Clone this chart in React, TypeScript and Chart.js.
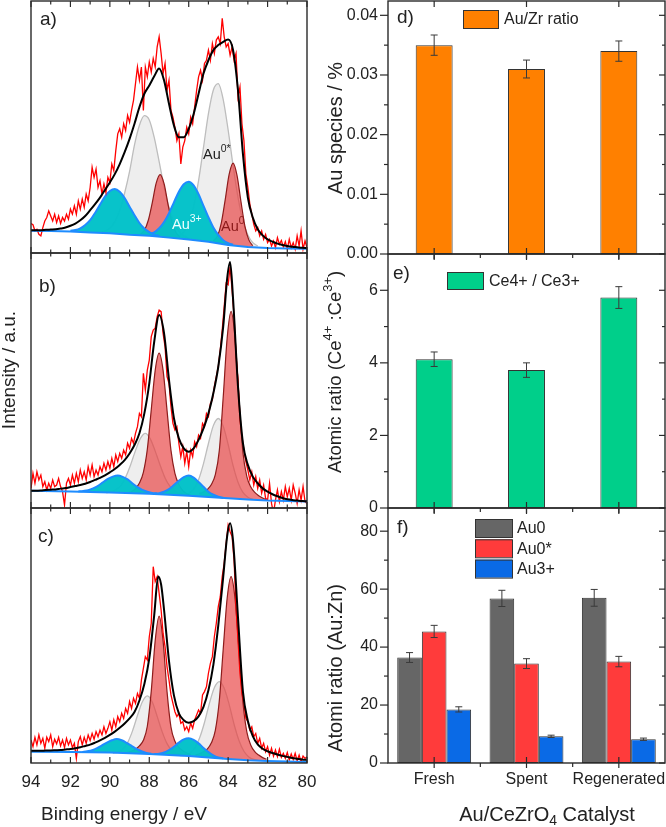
import React, { useEffect, useRef } from 'react';
import { Chart, registerables } from 'chart.js';

Chart.register(...registerables);

const FONT = 'Arial, "Liberation Sans", Helvetica, sans-serif';
const INK = '#222222';
Chart.defaults.font.family = FONT;
Chart.defaults.color = INK;

type Pt = [number, number];

// ---------------- XPS Au 4f spectra (binding energy / eV, intensity / a.u.) ----------------
const ENERGY_START = 94;
const ENERGY_STEP = 0.1;
const BE_TICKS = [94, 92, 90, 88, 86, 84, 82, 80];
const BE_MINOR = [93, 91, 89, 87, 85, 83, 81];

const RAW_A = [
  11.7, 11.2, 8.8, 9.4, 7.4, 6.8, 10.1, 12.7, 14.1, 16.7,
  14.7, 12.7, 15.4, 12.1, 14.7, 11.7, 14.1, 12.7, 15.4, 13.4,
  17.4, 15.4, 18.7, 15.4, 20.7, 17.4, 21.4, 18.1, 23.4, 20.7,
  26.0, 34.0, 30.0, 33.3, 26.0, 28.7, 23.4, 27.4, 24.0, 30.0,
  28.0, 35.3, 32.7, 40.6, 47.3, 49.3, 45.9, 51.3, 48.6, 54.6,
  51.9, 56.6, 60.6, 67.2, 73.8, 68.5, 73.8, 56.6, 73.8, 69.9,
  75.8, 71.8, 77.2, 73.8, 81.8, 85.8, 79.2, 71.2, 75.2, 64.5,
  68.5, 56.6, 53.9, 49.9, 44.6, 47.3, 35.3, 42.0, 44.6, 49.9,
  47.3, 53.9, 51.3, 57.9, 64.5, 69.9, 72.5, 68.5, 75.2, 76.5,
  80.5, 76.5, 83.1, 79.2, 84.5, 85.8, 83.1, 93.1, 85.8, 81.8,
  83.1, 78.5, 81.8, 76.5, 79.2, 61.9, 65.9, 51.3, 44.6, 31.3,
  26.0, 19.4, 15.4, 11.4, 8.8, 10.1, 6.8, 8.8, 5.4, 7.4,
  4.1, 5.4, 2.8, 4.8, 2.1, 6.1, 3.5, 5.0, 2.4, 4.5,
  1.5, 5.4, 2.1, 4.1, 1.5, 6.8, 2.8, 8.8, 1.5, 4.8, 2.1,
];
const RAW_B = [
  7.7, 13.6, 9.7, 14.2, 11.0, 12.9, 8.4, 10.3, 7.1, 9.7,
  7.7, 11.0, 8.4, 9.0, 11.6, 8.4, 6.4, 1.2, 9.7, 11.6,
  9.0, 12.9, 9.7, 13.6, 10.3, 14.9, 11.6, 14.2, 11.0, 16.2,
  12.9, 16.9, 12.3, 14.9, 12.9, 16.2, 14.2, 17.5, 14.9, 18.2,
  15.6, 19.5, 16.2, 20.8, 18.2, 21.4, 19.5, 22.7, 20.8, 25.4,
  23.4, 27.3, 25.4, 29.3, 31.9, 37.1, 35.8, 52.8, 46.3, 54.1,
  58.0, 67.2, 69.8, 70.5, 75.0, 77.6, 77.0, 68.5, 63.3, 51.5,
  48.9, 39.7, 33.2, 30.6, 31.9, 25.4, 20.1, 24.1, 17.5, 22.1,
  16.2, 22.7, 20.1, 26.0, 24.1, 28.6, 27.3, 33.2, 31.9, 37.1,
  35.8, 41.0, 42.4, 47.6, 51.5, 55.4, 62.0, 69.8, 79.0, 88.1,
  87.5, 94.6, 85.5, 75.0, 59.3, 50.2, 34.5, 28.0, 22.7, 18.2,
  14.9, 11.0, 14.2, 9.0, 12.3, 7.7, 11.0, 5.8, 9.0, 3.8,
  3.1, 9.7, 1.8, -2.1, 3.1, 7.1, 2.5, 6.4, 3.1, 8.4,
  4.4, 7.7, 3.1, 9.0, 5.8, 1.8, 7.1, 3.1, 8.4, 2.5, 1.8,
];
const RAW_C = [
  9.0, 6.4, 10.1, 7.1, 11.0, 7.7, 9.7, 5.8, 10.1, 8.4,
  11.0, 6.4, 9.3, 7.5, 10.1, 6.7, 9.0, 6.1, 9.7, 7.1,
  9.0, 6.1, 7.7, 1.8, 8.4, 10.3, 7.1, 10.1, 7.7, 11.0,
  8.8, 11.6, 9.3, 12.3, 10.3, 12.9, 11.0, 14.2, 11.6, 13.6,
  16.2, 12.9, 16.9, 14.2, 18.2, 16.2, 19.5, 17.5, 21.4, 19.5,
  24.1, 21.4, 25.4, 23.4, 27.3, 25.4, 32.5, 37.1, 41.7, 40.4,
  49.5, 54.8, 77.0, 71.1, 73.1, 66.5, 60.0, 50.8, 45.6, 37.8,
  32.5, 26.7, 23.4, 20.1, 18.2, 19.5, 15.6, 16.2, 12.9, 14.2,
  12.3, 15.6, 13.6, 16.9, 18.8, 20.8, 19.5, 26.7, 28.0, 29.9,
  35.2, 39.1, 41.7, 49.5, 54.8, 61.3, 65.2, 73.1, 78.3, 86.1,
  93.3, 90.7, 88.8, 79.6, 61.3, 48.2, 35.2, 27.3, 23.4, 17.5,
  16.2, 12.9, 14.2, 10.3, 11.6, 7.7, 9.7, 5.8, 7.7, 4.4,
  6.4, 3.1, 5.8, 2.7, 5.1, 2.5, 5.4, 2.2, 3.8, 1.8,
  4.1, 1.2, 3.5, 1.4, 3.8, 0.9, 3.1, 0.5, 2.7, 1.8, 2.5,
];

const FIT_A: Pt[] = [[94,9.0],[93.75,9.0],[93.5,9.0],[93.25,9.2],[93,9.3],[92.75,9.4],[92.5,9.7],[92.25,10.1],[92,10.8],[91.75,11.7],[91.5,13.0],[91.25,14.7],[91,17.0],[90.75,19.4],[90.5,22.0],[90.25,25.0],[90,28.0],[89.75,31.3],[89.5,35.3],[89.25,40.0],[89,45.3],[88.75,51.3],[88.5,57.9],[88.25,63.2],[88,66.5],[87.75,70.1],[87.5,73.2],[87.25,68.5],[87,59.2],[86.75,50.6],[86.5,45.9],[86.25,45.9],[86,49.3],[85.75,55.2],[85.5,63.2],[85.25,71.2],[85,76.5],[84.75,80.5],[84.5,82.5],[84.25,83.8],[84,84.7],[83.75,80.5],[83.5,64.5],[83.25,39.3],[83,22.0],[82.75,14.1],[82.5,9.4],[82.25,7.0],[82,5.4],[81.75,4.5],[81.5,3.7],[81.25,3.2],[81,2.8],[80.75,2.5],[80.5,2.3],[80.25,2.1],[80,2.0]];
const BG_A: Pt[] = [[94,8.8],[93,8.7],[92,8.5],[91,8.1],[90,7.8],[89,7.2],[88,6.8],[87,6.1],[86,5.4],[85,4.5],[84,3.2],[83,2.4],[82,2.0],[81,1.8],[80,1.7]];
const GRAY_A1: Pt[] = [[90.5,8.3],[90.25,8.7],[90,9.9],[89.75,12.4],[89.5,16.9],[89.25,23.8],[89,32.4],[88.75,42.9],[88.5,50.7],[88.25,54.5],[88,52.8],[87.75,45.9],[87.5,36.3],[87.25,26.3],[87,18.0],[86.75,12.3],[86.5,8.7],[86.25,6.8],[86,5.8]];
const GRAY_A2: Pt[] = [[86.75,6.3],[86.5,6.8],[86.25,8.4],[86,11.9],[85.75,18.4],[85.5,28.7],[85.25,41.9],[85,55.3],[84.75,64.7],[84.5,67.2],[84.25,60.9],[84,48.8],[83.75,34.7],[83.5,22.1],[83.25,12.8],[83,7.1],[82.75,4.1],[82.5,2.8]];
const RED_A1: Pt[] = [[88.45,7.4],[88.25,9.0],[88.05,13.0],[87.85,19.9],[87.65,27.7],[87.45,31.1],[87.25,27.5],[87.05,19.3],[86.85,12.3],[86.65,8.1],[86.45,6.5]];
const RED_A2: Pt[] = [[84.75,4.8],[84.55,6.6],[84.35,11.8],[84.15,21.1],[83.95,31.2],[83.75,35.7],[83.55,30.8],[83.35,20.4],[83.15,10.7],[82.95,5.2],[82.75,2.9]];
const CYAN_A1: Pt[] = [[92,8.8],[91.75,9.1],[91.5,9.8],[91.25,11.1],[91,13.0],[90.75,15.9],[90.5,19.2],[90.25,22.4],[90,24.6],[89.75,25.4],[89.5,24.3],[89.25,21.8],[89,18.4],[88.75,15.0],[88.5,11.9],[88.25,9.7],[88,8.3],[87.75,7.3],[87.5,6.8]];
const CYAN_A2: Pt[] = [[88.25,7.2],[88,7.5],[87.75,8.2],[87.5,9.8],[87.25,12.3],[87,15.8],[86.75,20.1],[86.5,24.3],[86.25,27.3],[86,28.3],[85.75,26.8],[85.5,23.3],[85.25,18.7],[85,14.2],[84.75,10.1],[84.5,7.2],[84.25,5.1],[84,3.9],[83.75,3.3]];

const FIT_B: Pt[] = [[94,6.8],[93.75,6.8],[93.5,6.9],[93.25,7.1],[93,7.2],[92.75,7.3],[92.5,7.6],[92.25,7.8],[92,8.2],[91.75,8.6],[91.5,9.0],[91.25,9.5],[91,10.2],[90.75,11.0],[90.5,11.8],[90.25,12.8],[90,14.0],[89.75,15.3],[89.5,16.9],[89.25,18.8],[89,21.4],[88.75,24.7],[88.5,29.3],[88.25,37.1],[88,48.9],[87.75,65.2],[87.5,75.7],[87.25,68.5],[87,50.2],[86.75,35.2],[86.5,27.3],[86.25,23.4],[86,22.1],[85.75,23.4],[85.5,26.7],[85.25,31.2],[85,37.1],[84.75,45.0],[84.5,55.4],[84.25,71.1],[84.05,90.0],[83.9,96.5],[83.75,82.0],[83.5,47.6],[83.25,25.4],[83,16.9],[82.75,12.3],[82.5,9.7],[82.25,7.7],[82,6.4],[81.75,5.4],[81.5,4.6],[81.25,3.9],[81,3.4],[80.75,3.1],[80.5,2.9],[80.25,2.7],[80,2.6]];
const BG_B: Pt[] = [[94,6.8],[92,6.5],[90,6.1],[88,5.6],[87,5.2],[86,4.8],[85,4.3],[84,3.8],[83,3.3],[82,2.9],[80,2.5]];
const GRAY_B1: Pt[] = [[90.2,6.0],[89.95,6.3],[89.7,7.2],[89.45,8.8],[89.2,12.1],[88.95,16.9],[88.7,22.5],[88.45,27.3],[88.2,29.3],[87.95,27.1],[87.7,22.3],[87.45,16.8],[87.2,11.8],[86.95,8.5],[86.7,6.6],[86.45,5.6],[86.2,5.3]];
const GRAY_B2: Pt[] = [[86.25,5.2],[86,5.8],[85.75,7.4],[85.5,11.1],[85.25,17.4],[85,25.3],[84.75,32.3],[84.5,35.1],[84.25,32.1],[84,24.9],[83.75,16.6],[83.5,10.1],[83.25,6.1],[83,4.2],[82.75,3.4]];
const RED_B1: Pt[] = [[89.1,5.9],[88.9,6.4],[88.7,7.6],[88.5,9.8],[88.3,14.0],[88.1,23.0],[87.9,38.5],[87.7,54.0],[87.5,60.7],[87.3,54.0],[87.1,38.3],[86.9,22.6],[86.7,13.6],[86.5,9.2],[86.3,6.8],[86.1,5.6],[85.9,5.0]];
const RED_B2: Pt[] = [[85.45,5.6],[85.25,6.3],[85.05,7.3],[84.85,9.2],[84.65,13.1],[84.45,22.4],[84.25,43.5],[84.05,66.6],[83.85,77.1],[83.65,66.5],[83.45,43.1],[83.25,21.8],[83.05,12.3],[82.85,8.2],[82.65,6.1],[82.45,4.8],[82.25,3.9],[82.05,3.2]];
const CYAN_B1: Pt[] = [[91.6,6.5],[91.35,6.7],[91.1,7.0],[90.85,7.7],[90.6,8.7],[90.35,10.1],[90.1,11.4],[89.85,12.3],[89.6,12.7],[89.35,12.2],[89.1,11.2],[88.85,9.6],[88.6,8.2],[88.35,7.1],[88.1,6.4],[87.85,5.9],[87.6,5.7]];
const CYAN_B2: Pt[] = [[87.75,5.6],[87.5,5.8],[87.25,6.4],[87,7.4],[86.75,9.0],[86.5,10.7],[86.25,12.1],[86,12.7],[85.75,11.9],[85.5,10.2],[85.25,8.3],[85,6.4],[84.75,5.2],[84.5,4.4],[84.25,4.0]];

const FIT_C: Pt[] = [[94,4.8],[93.75,4.8],[93.5,4.8],[93.25,4.9],[93,4.9],[92.75,5.0],[92.5,5.1],[92.25,5.3],[92,5.5],[91.75,5.8],[91.5,6.2],[91.25,6.7],[91,7.2],[90.75,8.0],[90.5,8.9],[90.25,9.9],[90,11.0],[89.75,12.3],[89.5,13.8],[89.25,15.5],[89,17.5],[88.75,20.0],[88.5,24.5],[88.25,31.0],[88,41.0],[87.75,58.0],[87.55,73.1],[87.4,70.0],[87.25,60.0],[87,40.0],[86.75,26.5],[86.5,19.5],[86.25,16.8],[86,15.8],[85.75,16.4],[85.5,18.3],[85.25,22.0],[85,28.5],[84.75,38.5],[84.5,54.0],[84.25,73.0],[84.05,89.0],[83.9,94.0],[83.75,87.0],[83.5,57.0],[83.25,28.0],[83,16.5],[82.75,10.5],[82.5,7.3],[82.25,5.6],[82,4.6],[81.75,3.9],[81.5,3.3],[81.25,2.8],[81,2.4],[80.75,2.0],[80.5,1.7],[80.25,1.4],[80,1.2]];
const BG_C: Pt[] = [[94,4.4],[92,4.3],[90,4.1],[88,3.5],[87,3.1],[86,2.7],[85,2.2],[84,1.6],[83,1.1],[82,0.8],[80,0.4]];
const GRAY_C1: Pt[] = [[89.85,3.9],[89.6,4.3],[89.35,5.4],[89.1,8.0],[88.85,12.6],[88.6,18.6],[88.35,24.0],[88.1,26.3],[87.85,23.9],[87.6,18.3],[87.35,12.3],[87.1,7.6],[86.85,4.9],[86.6,3.7],[86.35,3.3]];
const GRAY_C2: Pt[] = [[86.45,2.9],[86.2,3.0],[85.95,3.8],[85.7,5.8],[85.45,9.8],[85.2,15.9],[84.95,23.4],[84.7,29.5],[84.45,31.9],[84.2,29.3],[83.95,23.0],[83.7,15.2],[83.45,8.8],[83.2,4.6],[82.95,2.4],[82.7,1.4],[82.45,1.0]];
const RED_C1: Pt[] = [[89.1,4.1],[88.9,4.6],[88.7,5.4],[88.5,6.7],[88.3,8.9],[88.1,14.4],[87.9,28.2],[87.7,48.0],[87.5,57.6],[87.3,47.9],[87.1,28.0],[86.9,14.1],[86.7,8.5],[86.5,6.1],[86.3,4.8],[86.1,3.9],[85.9,3.4]];
const RED_C2: Pt[] = [[85.65,3.1],[85.45,3.6],[85.25,4.4],[85.05,5.5],[84.85,7.9],[84.65,12.8],[84.45,24.3],[84.25,44.6],[84.05,64.6],[83.85,73.1],[83.65,64.4],[83.45,44.3],[83.25,23.8],[83.05,12.1],[82.85,7.0],[82.65,4.5],[82.45,3.1],[82.25,2.1],[82.05,1.5]];
const CYAN_C1: Pt[] = [[91.4,4.3],[91.15,4.6],[90.9,5.0],[90.65,5.8],[90.4,6.9],[90.15,8.0],[89.9,8.9],[89.65,9.4],[89.4,8.9],[89.15,7.9],[88.9,6.7],[88.65,5.5],[88.4,4.6],[88.15,3.9],[87.9,3.6]];
const CYAN_C2: Pt[] = [[87.75,3.5],[87.5,3.6],[87.25,4.1],[87,5.1],[86.75,6.4],[86.5,8.0],[86.25,9.25],[86,9.7],[85.75,9.1],[85.5,7.7],[85.25,5.9],[85,4.3],[84.75,3.0],[84.5,2.2],[84.25,1.9]];

// ---------------- Bar panels ----------------
const CATALYSTS = ['Fresh', 'Spent', 'Regenerated'];
const AU_ZR = [0.035, 0.031, 0.034];
const AU_ZR_ERR = [0.0017, 0.0015, 0.0017];
const CE_RATIO = [4.1, 3.8, 5.8];
const CE_RATIO_ERR = [0.2, 0.2, 0.3];
const AU0 = [36.4, 56.8, 57.0];
const AU0_ERR = [1.7, 2.8, 2.9];
const AU0_STAR = [45.4, 34.3, 35.0];
const AU0_STAR_ERR = [2.1, 1.7, 1.8];
const AU3 = [18.5, 9.2, 8.2];
const AU3_ERR = [0.9, 0.4, 0.4];
const D_TICKS = [0, 0.01, 0.02, 0.03, 0.04];
const D_MINOR = [0.005, 0.015, 0.025, 0.035];
const E_TICKS = [0, 2, 4, 6];
const E_MINOR = [1, 3, 5];
const F_TICKS = [0, 20, 40, 60, 80];
const F_MINOR = [10, 30, 50, 70];

// ---------------- helpers ----------------
const W = 666;
const H = 827;
const toXY = (pts: Pt[]) => pts.map(([x, y]) => ({ x, y }));
const rawXY = (vals: number[]) =>
  vals.map((y, i) => ({ x: Math.round((ENERGY_START - i * ENERGY_STEP) * 100) / 100, y }));

interface XpsSet { raw: number[]; fit: Pt[]; bg: Pt[]; gray: Pt[][]; red: Pt[][]; cyan: Pt[][] }

function xpsDatasets(s: XpsSet) {
  const ds: any[] = [
    { label: 'Background', data: toXY(s.bg), borderColor: '#1E8CFF', borderWidth: 2, fill: false, order: 2 },
  ];
  s.gray.forEach((p) =>
    ds.push({ label: 'Au0*', data: toXY(p), borderColor: '#BDBDBD', borderWidth: 1.3, backgroundColor: 'rgba(215,215,215,0.42)', fill: 0, order: 7, cubicInterpolationMode: 'monotone' }));
  s.red.forEach((p) =>
    ds.push({ label: 'Au0', data: toXY(p), borderColor: '#8E1C1C', borderWidth: 1.2, backgroundColor: 'rgba(232,62,62,0.66)', fill: 0, order: 6, cubicInterpolationMode: 'monotone' }));
  s.cyan.forEach((p) =>
    ds.push({ label: 'Au3+', data: toXY(p), borderColor: '#1E8CFF', borderWidth: 2, backgroundColor: 'rgba(0,193,200,0.97)', fill: 0, order: 5, cubicInterpolationMode: 'monotone' }));
  ds.push({ label: 'Raw', data: rawXY(s.raw), borderColor: '#FF0000', borderWidth: 1.3, fill: false, order: 3, tension: 0 });
  ds.push({ label: 'Fit', data: toXY(s.fit), borderColor: '#000000', borderWidth: 2, fill: false, order: 1, cubicInterpolationMode: 'monotone' });
  return ds;
}

type Part = { t: string; s?: number; dy?: number };
interface TextItem { parts: Part[]; x: number; y: number; size: number; rot?: number; color?: string; align?: 'left' | 'center' }

function textPlugin(items: TextItem[]) {
  return {
    id: 'richText',
    afterDraw(chart: any) {
      const ctx = chart.ctx as CanvasRenderingContext2D;
      items.forEach((it) => {
        ctx.save();
        ctx.translate(it.x, it.y);
        if (it.rot) ctx.rotate(it.rot);
        ctx.fillStyle = it.color || INK;
        ctx.textBaseline = 'middle';
        ctx.textAlign = 'left';
        let total = 0;
        const widths = it.parts.map((p) => {
          ctx.font = `${it.size * (p.s ?? 1)}px ${FONT}`;
          const w = ctx.measureText(p.t).width;
          total += w;
          return w;
        });
        let x = it.align === 'left' ? 0 : -total / 2;
        it.parts.forEach((p, i) => {
          ctx.font = `${it.size * (p.s ?? 1)}px ${FONT}`;
          ctx.fillText(p.t, x, (p.dy ?? 0) * it.size);
          x += widths[i];
        });
        ctx.restore();
      });
    },
  };
}

function framePlugin(kind: 'xps' | 'bar', yMajor: number[] = [], yMinor: number[] = []) {
  return {
    id: 'frame',
    afterDraw(chart: any) {
      const { ctx, chartArea: a, scales } = chart;
      const xs = scales.x;
      const ys = scales.y;
      ctx.save();
      ctx.strokeStyle = '#2A2A2A';
      const seg = (x1: number, y1: number, x2: number, y2: number) => {
        ctx.beginPath(); ctx.moveTo(x1, y1); ctx.lineTo(x2, y2); ctx.stroke();
      };
      ctx.lineWidth = 1.2;
      if (kind === 'xps') {
        BE_TICKS.forEach((v) => { const px = xs.getPixelForValue(v); seg(px, a.bottom, px, a.bottom - 6); seg(px, a.top, px, a.top + 6); });
        BE_MINOR.forEach((v) => { const px = xs.getPixelForValue(v); seg(px, a.bottom, px, a.bottom - 3.5); seg(px, a.top, px, a.top + 3.5); });
      } else {
        const n = chart.data.labels.length;
        for (let i = 0; i < n; i++) {
          const px = xs.getPixelForValue(i);
          seg(px, a.bottom + 5, px, a.bottom - 6);
          seg(px, a.top, px, a.top + 6);
        }
        for (let i = 0; i < n - 1; i++) {
          const px = xs.getPixelForValue(i + 0.5);
          seg(px, a.bottom, px, a.bottom + 4);
        }
        yMajor.forEach((v) => { const py = ys.getPixelForValue(v); seg(a.left - 8, py, a.left, py); seg(a.right, py, a.right - 6, py); });
        yMinor.forEach((v) => { const py = ys.getPixelForValue(v); seg(a.left - 4, py, a.left, py); seg(a.right, py, a.right - 3, py); });
      }
      ctx.lineWidth = 1.4;
      ctx.strokeRect(a.left, a.top, a.right - a.left, a.bottom - a.top);
      ctx.restore();
    },
  };
}

function errorPlugin(errs: number[][]) {
  return {
    id: 'errorBars',
    afterDatasetsDraw(chart: any) {
      const ctx = chart.ctx as CanvasRenderingContext2D;
      const ys = chart.scales.y;
      ctx.save();
      ctx.strokeStyle = '#3A3A3A';
      ctx.lineWidth = 1;
      chart.data.datasets.forEach((ds: any, di: number) => {
        const meta = chart.getDatasetMeta(di);
        meta.data.forEach((bar: any, i: number) => {
          const v = ds.data[i];
          const e = errs[di][i];
          const x = bar.x;
          const yt = ys.getPixelForValue(v + e);
          const yb = ys.getPixelForValue(v - e);
          ctx.beginPath();
          ctx.moveTo(x, yt); ctx.lineTo(x, yb);
          ctx.moveTo(x - 3.5, yt); ctx.lineTo(x + 3.5, yt);
          ctx.moveTo(x - 3.5, yb); ctx.lineTo(x + 3.5, yb);
          ctx.stroke();
        });
      });
      ctx.restore();
    },
  };
}

function legendPlugin(x: number, y: number, w: number, h: number, step: number, gap: number) {
  return {
    id: 'boxLegend',
    afterDraw(chart: any) {
      const ctx = chart.ctx as CanvasRenderingContext2D;
      ctx.save();
      chart.data.datasets.forEach((ds: any, i: number) => {
        const yy = y + i * step;
        ctx.fillStyle = ds.backgroundColor;
        ctx.fillRect(x, yy, w, h);
        ctx.strokeStyle = '#333';
        ctx.lineWidth = 1;
        ctx.strokeRect(x + 0.5, yy + 0.5, w, h);
        ctx.fillStyle = INK;
        ctx.font = `16px ${FONT}`;
        ctx.textBaseline = 'middle';
        ctx.textAlign = 'left';
        ctx.fillText(ds.label, x + w + gap, yy + h / 2 + 1);
      });
      ctx.restore();
    },
  };
}

const baseOptions = {
  responsive: false,
  animation: false as const,
  events: [] as any[],
  elements: { point: { radius: 0, hitRadius: 0 } },
};

function xpsConfig(s: XpsSet, top: number, bottom: number, showX: boolean, texts: TextItem[]) {
  const left = 31;
  const right = 307;
  const x: any = {
    type: 'linear', min: 80, max: 94, reverse: true, display: showX,
    grid: { display: false, drawTicks: false }, border: { display: false },
    ticks: { font: { size: 17 }, color: INK, padding: 9, maxRotation: 0, autoSkip: false },
    afterBuildTicks: (sc: any) => { sc.ticks = BE_TICKS.map((value) => ({ value })); },
  };
  if (showX) x.afterFit = (sc: any) => { sc.height = 40; sc.paddingLeft = 0; sc.paddingRight = 0; };
  return {
    type: 'line' as const,
    data: { datasets: xpsDatasets(s) },
    options: {
      ...baseOptions,
      layout: { padding: { left, right: W - right, top, bottom: H - bottom - (showX ? 40 : 0) } },
      plugins: { legend: { display: false }, tooltip: { enabled: false } },
      scales: { x, y: { type: 'linear', min: 0, max: 100, display: false } },
    },
    plugins: [framePlugin('xps'), textPlugin(texts)],
  };
}

function barConfig(
  datasets: any[], errs: number[][], top: number, bottom: number, yMax: number,
  ticks: number[], minor: number[], fmt: (v: number) => string, showX: boolean,
  single: boolean, legend: any, texts: TextItem[],
) {
  const left = 388;
  const right = 665;
  const yw = 50;
  const x: any = {
    type: 'category', labels: CATALYSTS, display: showX, offset: true,
    grid: { display: false, drawTicks: false }, border: { display: false },
    ticks: { font: { size: 16 }, color: INK, padding: 7, maxRotation: 0, autoSkip: false },
  };
  if (showX) x.afterFit = (sc: any) => { sc.height = 40; sc.paddingLeft = 0; sc.paddingRight = 0; };
  return {
    type: 'bar' as const,
    data: {
      labels: CATALYSTS,
      datasets: datasets.map((d) => ({
        ...d, borderColor: '#333333', borderWidth: 1, borderSkipped: false,
        barPercentage: single ? 0.4 : 1, categoryPercentage: single ? 1 : 0.8,
      })),
    },
    options: {
      ...baseOptions,
      layout: { padding: { left: left - yw, right: W - right, top, bottom: H - bottom - (showX ? 40 : 0) } },
      plugins: { legend: { display: false }, tooltip: { enabled: false } },
      scales: {
        x,
        y: {
          type: 'linear', min: 0, max: yMax,
          grid: { display: false, drawTicks: false }, border: { display: false },
          ticks: { font: { size: 16 }, color: INK, padding: 10, callback: (v: any) => fmt(Number(v)) },
          afterBuildTicks: (sc: any) => { sc.ticks = ticks.map((value) => ({ value })); },
          afterFit: (sc: any) => { sc.width = yw; sc.paddingTop = 0; sc.paddingBottom = 0; },
        },
      },
    },
    plugins: [
      framePlugin('bar', ticks, minor),
      errorPlugin(errs),
      legendPlugin(legend.x, legend.y, legend.w, legend.h, legend.step, legend.gap),
      textPlugin(texts),
    ],
  };
}

const ROT = -Math.PI / 2;

function buildConfigs() {
  const a = xpsConfig(
    { raw: RAW_A, fit: FIT_A, bg: BG_A, gray: [GRAY_A1, GRAY_A2], red: [RED_A1, RED_A2], cyan: [CYAN_A1, CYAN_A2] },
    1, 253, false,
    [
      { parts: [{ t: 'a)' }], x: 40, y: 20, size: 19, align: 'left' },
      { parts: [{ t: 'Au' }, { t: '0*', s: 0.72, dy: -0.42 }], x: 203, y: 155, size: 14.5, align: 'left' },
      { parts: [{ t: 'Au' }, { t: '3+', s: 0.72, dy: -0.42 }], x: 172, y: 225, size: 14.5, align: 'left', color: '#EFFFFF' },
      { parts: [{ t: 'Au' }, { t: '0', s: 0.72, dy: -0.42 }], x: 221, y: 227, size: 14.5, align: 'left', color: '#8B1A1A' },
    ],
  );
  const b = xpsConfig(
    { raw: RAW_B, fit: FIT_B, bg: BG_B, gray: [GRAY_B1, GRAY_B2], red: [RED_B1, RED_B2], cyan: [CYAN_B1, CYAN_B2] },
    253, 508, false,
    [
      { parts: [{ t: 'b)' }], x: 39, y: 287, size: 19, align: 'left' },
      { parts: [{ t: 'Intensity / a.u.' }], x: 10, y: 370, size: 19, rot: ROT },
    ],
  );
  const c = xpsConfig(
    { raw: RAW_C, fit: FIT_C, bg: BG_C, gray: [GRAY_C1, GRAY_C2], red: [RED_C1, RED_C2], cyan: [CYAN_C1, CYAN_C2] },
    508, 763, true,
    [
      { parts: [{ t: 'c)' }], x: 38, y: 537, size: 19, align: 'left' },
      { parts: [{ t: 'Binding energy / eV' }], x: 124, y: 815, size: 19 },
    ],
  );
  const d = barConfig(
    [{ label: 'Au/Zr ratio', data: AU_ZR, backgroundColor: '#FF8000' }], [AU_ZR_ERR],
    1, 254, 0.0424, D_TICKS, D_MINOR, (v) => v.toFixed(2), false, true,
    { x: 463, y: 10, w: 35, h: 18, step: 20, gap: 6 },
    [
      { parts: [{ t: 'd)' }], x: 397, y: 18, size: 19, align: 'left' },
      { parts: [{ t: 'Au species / %' }], x: 336, y: 128, size: 20, rot: ROT },
    ],
  );
  const e = barConfig(
    [{ label: 'Ce4+ / Ce3+', data: CE_RATIO, backgroundColor: '#00CF8A' }], [CE_RATIO_ERR],
    254, 508, 7, E_TICKS, E_MINOR, (v) => String(v), false, true,
    { x: 447, y: 272, w: 36, h: 17, step: 20, gap: 6 },
    [
      { parts: [{ t: 'e)' }], x: 393, y: 274, size: 19, align: 'left' },
      {
        parts: [{ t: 'Atomic ratio (Ce' }, { t: '4+', s: 0.7, dy: -0.4 }, { t: ' :Ce' }, { t: '3+', s: 0.7, dy: -0.4 }, { t: ')' }],
        x: 336, y: 372, size: 18.5, rot: ROT,
      },
    ],
  );
  const f = barConfig(
    [
      { label: 'Au0', data: AU0, backgroundColor: '#666666' },
      { label: 'Au0*', data: AU0_STAR, backgroundColor: '#FF3B3B' },
      { label: 'Au3+', data: AU3, backgroundColor: '#0A6AE6' },
    ],
    [AU0_ERR, AU0_STAR_ERR, AU3_ERR],
    508, 763, 88, F_TICKS, F_MINOR, (v) => String(v), true, false,
    { x: 475, y: 519, w: 37, h: 18, step: 20.3, gap: 5 },
    [
      { parts: [{ t: 'f)' }], x: 397, y: 528, size: 19, align: 'left' },
      { parts: [{ t: 'Atomi ratio (Au:Zn)' }], x: 336, y: 668, size: 20, rot: ROT },
      { parts: [{ t: 'Au/CeZrO' }, { t: '4', s: 0.7, dy: 0.3 }, { t: ' Catalyst' }], x: 547, y: 815, size: 20 },
    ],
  );
  return [a, b, c, d, e, f];
}

export default function App() {
  const refs = useRef<(HTMLCanvasElement | null)[]>([]);
  useEffect(() => {
    const configs = buildConfigs();
    const charts = configs.map((cfg, i) => new Chart(refs.current[i] as HTMLCanvasElement, cfg as any));
    return () => charts.forEach((ch) => ch.destroy());
  }, []);
  return (
    <div style={{ position: 'absolute', left: 0, top: 0, width: W, height: H, background: '#ffffff' }}>
      {[0, 1, 2, 3, 4, 5].map((i) => (
        <canvas
          key={i}
          ref={(el) => { refs.current[i] = el; }}
          width={W}
          height={H}
          style={{ position: 'absolute', left: 0, top: 0, width: W, height: H }}
        />
      ))}
    </div>
  );
}
